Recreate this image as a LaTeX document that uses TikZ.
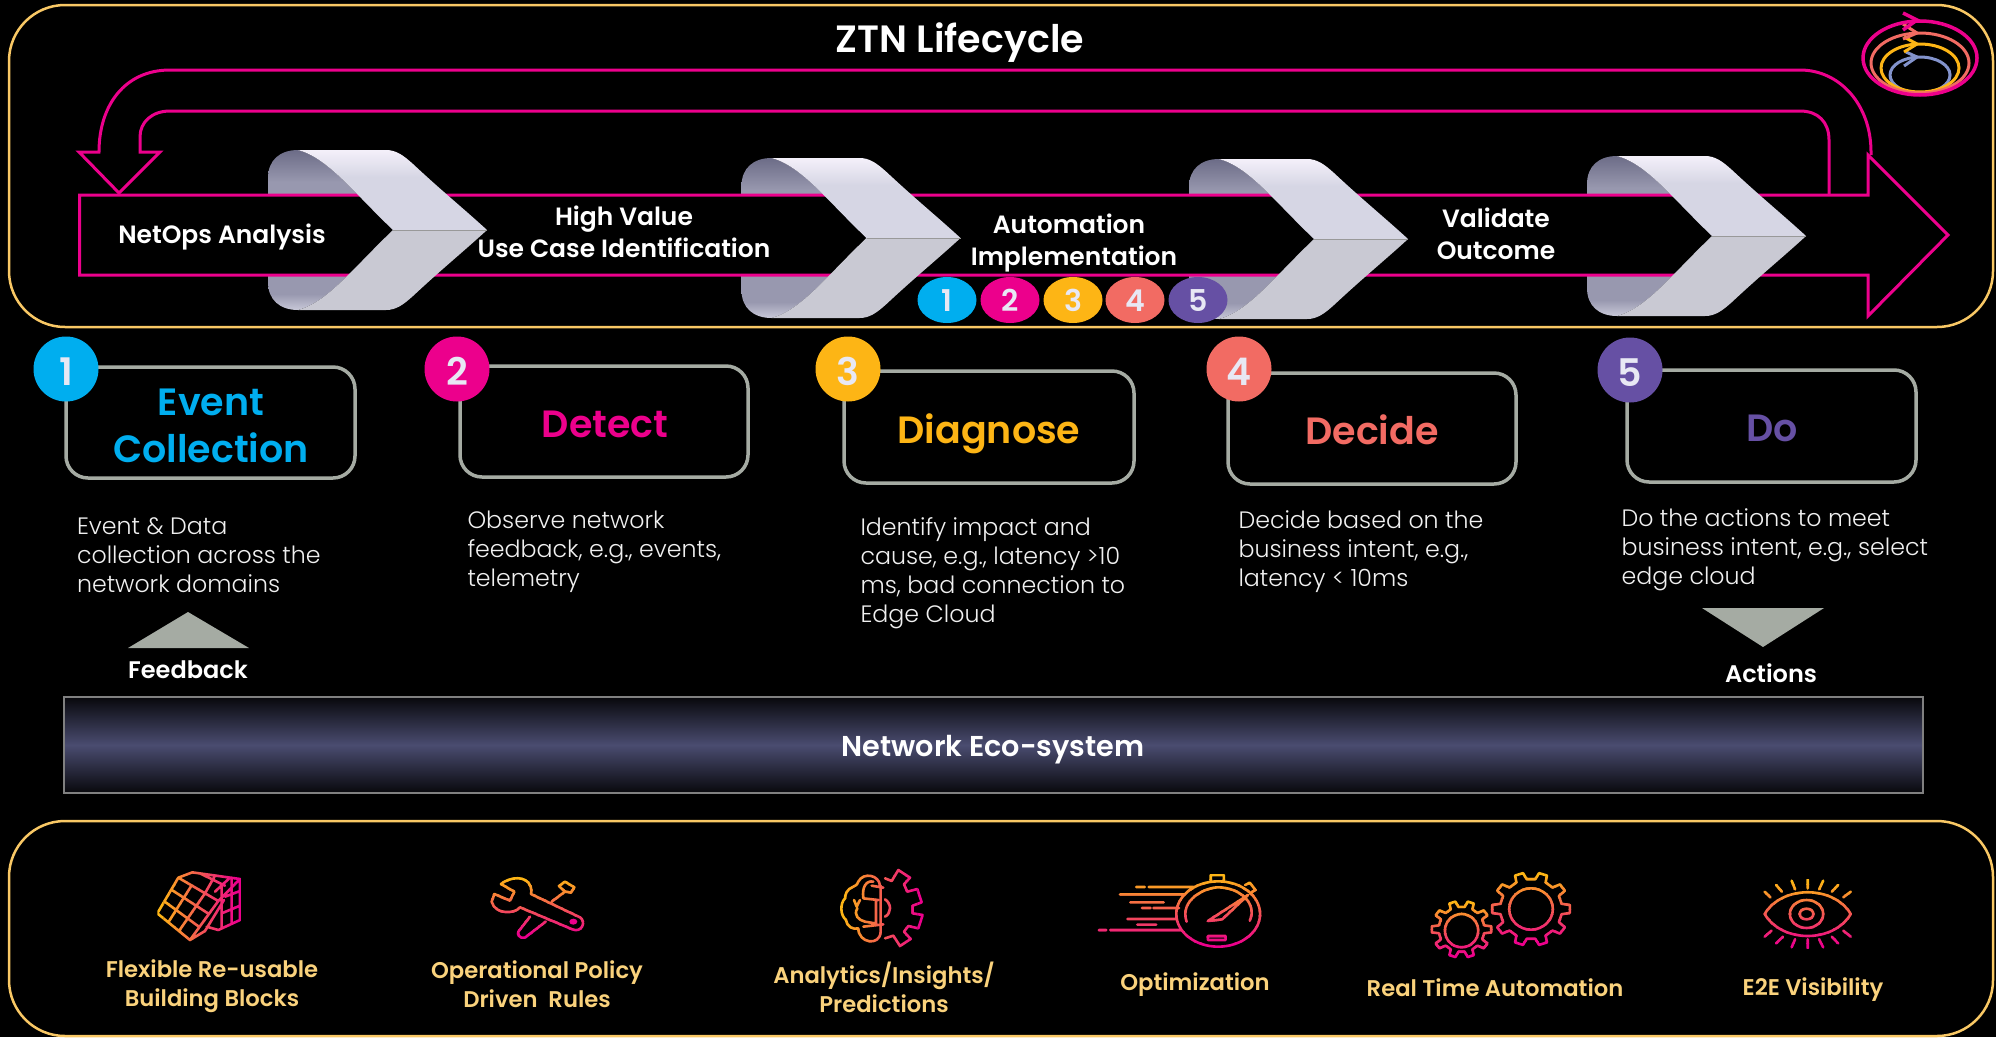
\documentclass[tikz,border=0pt]{standalone}
\usepackage{fontspec}
\usetikzlibrary{shapes.geometric}
\newfontfamily\headfont{Poppins SemiBold}
\newfontfamily\lightfont{Poppins Light}
\setmainfont{Poppins}

\definecolor{ztnframe}{HTML}{F9C865}
\definecolor{ztnpink}{HTML}{EC008C}
\definecolor{ztncyan}{HTML}{00AEEF}
\definecolor{ztnamber}{HTML}{FDB515}
\definecolor{ztncoral}{HTML}{F26B63}
\definecolor{ztnpurple}{HTML}{6650A4}
\definecolor{ztnblue}{HTML}{8393CC}
\definecolor{ztngrey}{HTML}{A5ABA3}
\definecolor{ztnlabel}{HTML}{FAD27C}
\definecolor{ztndigit}{HTML}{E8E8F4}
\definecolor{chevlow}{HTML}{C8C8D8}
\definecolor{chevmid}{HTML}{9898AF}
\definecolor{chevdark}{HTML}{6C6C87}
\definecolor{chevface}{HTML}{D6D6E4}
\definecolor{chevpale}{HTML}{F4F0FA}
\definecolor{chevlower}{HTML}{C9C9D3}
\definecolor{ecoedge}{HTML}{08080C}
\definecolor{ecomid}{HTML}{4A4C70}

\pgfdeclareverticalshading{chevbackfill}{100bp}{color(0bp)=(chevlow); color(25bp)=(chevlow); color(30bp)=(chevmid); color(65bp)=(chevmid); color(75bp)=(chevdark); color(100bp)=(chevdark)}
\pgfdeclareverticalshading{chevtopfill}{100bp}{color(0bp)=(chevface); color(58bp)=(chevface); color(75bp)=(chevpale); color(100bp)=(chevpale)}
\pgfdeclareverticalshading{ecofill}{100bp}{color(0bp)=(ecoedge); color(25bp)=(ecoedge); color(50bp)=(ecomid); color(75bp)=(ecoedge); color(100bp)=(ecoedge)}

\tikzset{
  frame/.style={draw=ztnframe, line width=2.5pt, rounded corners=56pt},
  pinkline/.style={draw=ztnpink, line width=3pt, miter limit=20},
  bandtext/.style={text=white, align=center, font=\headfont\fontsize{25}{32}\selectfont},
  stagebox/.style={draw=ztngrey, line width=3.5pt, rounded corners=22pt},
  stagetitle/.style={align=center, font=\headfont\fontsize{38}{47}\selectfont},
  stagetext/.style={text=white!94!black, align=left, anchor=west, font=\lightfont\fontsize{23.7}{29}\selectfont},
  bignum/.style={circle, minimum size=65pt, inner sep=0pt, text height=32pt, text depth=0pt, text=ztndigit, font=\headfont\fontsize{38}{38}\selectfont},
  smallnum/.style={ellipse, minimum width=59pt, minimum height=46pt, inner sep=0pt, text height=23pt, text depth=0pt, text=ztndigit, font=\headfont\fontsize{30}{30}\selectfont},
  tagtext/.style={text=white, font=\headfont\fontsize{24}{28}\selectfont},
  assettext/.style={text=ztnlabel, align=center, font=\headfont\fontsize{22.7}{29}\selectfont},
  iconline/.style={line width=2.6pt, line join=round, line cap=round},
}

% chevrons, given by left edge and centre height
\newcommand{\chevronback}[2]{
  \begin{scope}[shift={(#1,#2)}]
    \shade[shading=chevbackfill] (0,-52) .. controls (0,-70) and (12,-80) .. (30,-80)
      .. controls (60,-72) and (85,-38) .. (125,0) .. controls (85,38) and (60,72) .. (30,80)
      .. controls (12,80) and (0,70) .. (0,52) -- cycle;
  \end{scope}
}
\newcommand{\chevronfront}[2]{
  \begin{scope}[shift={(#1,#2)}]
    \shade[shading=chevtopfill] (30,-80) -- (118,-80) .. controls (128,-80) and (135,-75) .. (145,-66)
      .. controls (175,-38) and (195,-22) .. (219,0) -- (125,0) .. controls (85,-38) and (60,-72) .. (30,-80) -- cycle;
    \fill[chevlower] (30,80) -- (118,80) .. controls (128,80) and (135,75) .. (145,66)
      .. controls (175,38) and (195,22) .. (219,0) -- (125,0) .. controls (85,38) and (60,72) .. (30,80) -- cycle;
    \draw[black!40, line width=1pt] (125,0) -- (219,0);
  \end{scope}
}
% amber to pink stroke, made of thin clipped strips
\newcommand{\gradstroke}[3]{
  \foreach \k in {0,...,13}{
    \pgfmathsetmacro{\pct}{\k/13*100}
    \begin{scope}
      \clip (-200,{#1+(#2-#1)*\k/14}) rectangle (3000,{#1+(#2-#1)*(\k+1)/14+1});
      \draw[iconline, color=ztnpink!\pct!ztnamber] #3;
    \end{scope}
  }
}
\newcommand{\gradstrokex}[3]{
  \foreach \k in {0,...,13}{
    \pgfmathsetmacro{\pct}{\k/13*100}
    \begin{scope}
      \clip ({#1+(#2-#1)*\k/14},-200) rectangle ({#1+(#2-#1)*(\k+1)/14+1},3000);
      \draw[iconline, color=ztnpink!\pct!ztnamber] #3;
    \end{scope}
  }
}
% point of an ellipse
\newcommand{\gp}[5]{({#1+#3*cos(#5)},{#2+#4*sin(#5)})}
% gear outline: centre, outer radii, inner radii, teeth
\newcommand{\gearpath}[7]{
  \gp{#1}{#2}{#5}{#6}{-0.28*360/#7}
  \foreach \t in {1,...,#7}{
    -- \gp{#1}{#2}{#3}{#4}{(\t-1-0.17)*360/#7}
    -- \gp{#1}{#2}{#3}{#4}{(\t-1+0.17)*360/#7}
    -- \gp{#1}{#2}{#5}{#6}{(\t-1+0.28)*360/#7}
    -- \gp{#1}{#2}{#5}{#6}{(\t-1+0.72)*360/#7}
  } -- cycle
}

\begin{document}
\begin{tikzpicture}[x=1pt, y=-1pt]
\fill[black] (0,0) rectangle (1996,1037);
\useasboundingbox (0,0) rectangle (1996,1037);

\draw[frame] (9,5) rectangle (1993,327);
\draw[frame] (9,821) rectangle (1993,1036);

\node (title) at (960,43) [text=white, font=\headfont\fontsize{38}{46}\selectfont] {ZTN Lifecycle};

% spiral mark
\draw[ztnblue, line width=3pt] (1920,75) ellipse [x radius=30, y radius=18];
\draw[ztnblue, line width=3pt] (1904,66) -- (1917,57) -- (1906,52);
\draw[ztnamber, line width=3pt] (1920,68) ellipse [x radius=39, y radius=24];
\draw[ztnamber, line width=3pt] (1904,52) -- (1917,44) -- (1904,37);
\draw[ztncoral, line width=3pt] (1920,63) ellipse [x radius=49, y radius=30];
\draw[ztncoral, line width=3pt] (1903,39) -- (1917,33) -- (1903,24);
\draw[ztnpink, line width=3.5pt] (1920,58) ellipse [x radius=57, y radius=37];
\draw[ztnpink, line width=3.5pt] (1903,30) -- (1917,20) -- (1903,13);

% return arrow
\draw[pinkline] (1871,155) -- (1871,152) .. controls (1871,105) and (1840,70) .. (1800,70) -- (170,70)
  .. controls (125,70) and (99,105) .. (99,152) -- (79,152) -- (119,193) -- (160,152) -- (140,152) -- (140,137)
  .. controls (140,122) and (152,111) .. (170,111) -- (1800,111) .. controls (1818,111) and (1829,122) .. (1829,140) -- (1829,195);

\chevronback{268}{230}
\chevronback{741.5}{238}
\chevronback{1189}{239}
\chevronback{1587}{236}

% main band
\draw[pinkline, fill=black] (79.5,195) -- (1868,195) -- (1868,155) -- (1948,235) -- (1868,316) -- (1868,275) -- (79.5,275) -- cycle;

\chevronfront{268}{230}
\chevronfront{741.5}{238}
\chevronfront{1189}{239}
\chevronfront{1587}{236}

\node (netops) at (222,237) [bandtext] {NetOps Analysis};
\node (usecase) at (624,232) [bandtext] {High Value\\Use Case Identification};
\node (autoimpl) at (1074,243) [bandtext] {Automation\hspace*{10pt}\\Implementation};
\node (validate) at (1496,234) [bandtext] {Validate\\Outcome};

\node (mini1) at (947,300) [smallnum, fill=ztncyan] {1};
\node (mini2) at (1010,300) [smallnum, fill=ztnpink] {2};
\node (mini3) at (1073,300) [smallnum, fill=ztnamber] {3};
\node (mini4) at (1135,300) [smallnum, fill=ztncoral] {4};
\node (mini5) at (1198,300) [smallnum, fill=ztnpurple] {5};

% stages
\draw[stagebox] (66,367) rectangle (355,478);
\draw[stagebox] (460,366) rectangle (748,477);
\draw[stagebox] (844,371) rectangle (1134,483);
\draw[stagebox] (1228,373) rectangle (1516,484);
\draw[stagebox] (1627,370) rectangle (1916,482);

\node (num1) at (66,369) [bignum, fill=ztncyan] {1};
\node (num2) at (457,369) [bignum, fill=ztnpink] {2};
\node (num3) at (848,369) [bignum, fill=ztnamber] {3};
\node (num4) at (1239,369) [bignum, fill=ztncoral] {4};
\node (num5) at (1630,370) [bignum, fill=ztnpurple] {5};

\node (event) at (211,426) [stagetitle, text=ztncyan] {Event\\Collection};
\node (detect) at (605,424) [stagetitle, text=ztnpink] {Detect};
\node (diagnose) at (989,434) [stagetitle, text=ztnamber] {Diagnose};
\node (decide) at (1372,430) [stagetitle, text=ztncoral] {Decide};
\node (do) at (1772,428) [stagetitle, text=ztnpurple] {Do};

\node (eventtext) at (73.5,555) [stagetext] {Event \& Data\\collection across the\\network domains};
\node (detecttext) at (464,552) [stagetext] {Observe network\\feedback, e.g., events,\\telemetry};
\node (diagnosetext) at (857,573) [stagetext] {Identify impact and\\cause, e.g., latency >10\\ms, bad connection to\\Edge Cloud};
\node (decidetext) at (1235,552) [stagetext] {Decide based on the\\business intent, e.g.,\\latency < 10ms};
\node (dotext) at (1618,550) [stagetext] {Do the actions to meet\\business intent, e.g., select\\edge cloud};

\fill[ztngrey] (128,648) -- (188,612) -- (249,648) -- cycle;
\fill[ztngrey] (1702,608) -- (1824,608) -- (1763,647) -- cycle;
\node (feedback) at (188,670) [tagtext] {Feedback};
\node (actions) at (1771,673) [tagtext] {Actions};

\shade[shading=ecofill] (64,697) rectangle (1923,793);
\draw[black!50!white, line width=2.5pt] (64,697) rectangle (1923,793);
\node (eco) at (993,750) [text=white, font=\headfont\fontsize{28.7}{36}\selectfont] {Network Eco-system};

% bottom row
\node (flexible) at (212,986) [assettext] {Flexible Re-usable\\Building Blocks};
\node (policy) at (537,984) [assettext] {Operational Policy\\Driven~~Rules};
\node (analytics) at (884,987) [assettext] {Analytics/Insights/\\Predictions};
\node (optimize) at (1195,985) [assettext] {Optimization};
\node (realtime) at (1495,988) [assettext] {Real Time Automation};
\node (visibility) at (1813,990) [assettext] {E2E Visibility};

% icons traced from crops at three units a pixel
\begin{scope}[shift={(150,865)}, x=0.3333pt, y=-0.3333pt]
  \gradstrokex{22}{272}{
    (85,38) -- (22,145) -- (120,225) -- (205,108) -- cycle
    (64,74) -- (177,147) (43,109) -- (148,186)
    (125,61) -- (55,172) (165,85) -- (87,198)
    (85,38) -- (127,22) -- (270,42) -- (205,108)
    (150,25) -- (225,62) (195,32) -- (165,85) (240,38) -- (195,80)
    (270,42) -- (270,165) -- (205,195) -- (170,185)
    (245,38) -- (245,175) (215,62) -- (215,190) (225,95) -- (270,78) (215,145) -- (270,122)
    (120,225) -- (165,198) -- (222,105)
  }
\end{scope}
\begin{scope}[shift={(485,870)}, x=0.3333pt, y=-0.3333pt]
  \gradstroke{20}{205}{
    (48,42) .. controls (75,20) and (125,15) .. (137,50) .. controls (140,60) and (140,65) .. (138,72)
    -- (285,142) .. controls (305,155) and (290,190) .. (262,178) -- (105,112)
    .. controls (90,132) and (30,135) .. (20,95) -- (28,72) -- (75,92) -- (88,65) -- cycle
    (200,95) -- (240,65) -- (222,48) -- (240,35) -- (268,52) -- (258,68) -- (240,65)
    (135,140) -- (100,185) .. controls (95,205) and (120,210) .. (130,195) -- (182,155)
  }
  \fill[ztnpink] (265,155) ellipse [x radius=12, y radius=9];
\end{scope}
\begin{scope}[shift={(830,865)}, x=0.3333pt, y=-0.3333pt]
  \gradstrokex{30}{280}{
    (150,62) .. controls (148,30) and (100,20) .. (85,50) .. controls (80,60) and (78,62) .. (70,65)
    .. controls (50,72) and (45,90) .. (45,100) .. controls (30,115) and (30,150) .. (48,165)
    .. controls (50,185) and (70,195) .. (85,190) .. controls (85,235) and (150,245) .. (152,200) -- (152,62)
    (125,62) -- (160,68) (130,50) .. controls (110,45) and (95,65) .. (100,100) -- (145,105)
    (72,105) -- (80,125) -- (90,105) (138,105) -- (138,175) (100,185) -- (160,178)
    (82,130) .. controls (70,150) and (85,165) .. (105,170) -- (135,175)
    (165,103) .. controls (185,115) and (185,145) .. (165,155)
    (165,40) -- (185,48) -- (205,15) -- (240,38) -- (222,58) -- (232,80) -- (262,72) -- (275,112) -- (248,122)
    -- (248,145) -- (278,150) -- (265,190) -- (235,183) -- (222,200) -- (242,222) -- (210,243) -- (190,212) -- (165,220)
  }
\end{scope}
\begin{scope}[shift={(1050,840)}, x=0.574pt, y=-0.3333pt]
  % stopwatch
  \gradstroke{102}{322}{
    (293,222) ellipse [x radius=73, y radius=98]
    (238,245) .. controls (225,180) and (270,142) .. (293,142) .. controls (330,142) and (362,190) .. (348,242)
    (275,243) -- (345,165) -- (300,238) -- cycle
    (275,288) -- (306,288) -- (306,300) -- (275,300) -- cycle
    (280,122) -- (280,105) -- (303,105) -- (303,122)
    (340,135) -- (348,128) -- (358,150) -- (350,158)
    (150,141) -- (165,141) (172,141) -- (250,141) (122,163) -- (235,163) (140,187) -- (198,187)
    (160,204) -- (175,204) (180,204) -- (225,204) (135,237) -- (220,237) (152,254) -- (185,254)
    (85,270) -- (98,270) (105,270) -- (230,270)
  }
  % gears
  \gradstroke{95}{320}{
    \gearpath{838}{207}{68}{110}{54}{90}{10}
    (838,207) ellipse [x radius=38, y radius=62]
  }
  \gradstroke{180}{355}{
    \gearpath{717}{268}{52}{85}{40}{68}{10}
    (717,272) ellipse [x radius=29, y radius=50]
  }
  % eye
  \gradstroke{118}{325}{
    (1245,222) .. controls (1275,135) and (1365,135) .. (1395,222) .. controls (1365,310) and (1275,310) .. (1245,222) -- cycle
    (1318,222) ellipse [x radius=29, y radius=42]
    (1318,222) ellipse [x radius=12, y radius=16]
    (1245,155) -- (1255,172) (1265,135) -- (1275,155) (1292,122) -- (1298,148) (1320,118) -- (1320,145)
    (1347,122) -- (1340,148) (1373,135) -- (1362,155) (1395,155) -- (1382,172)
    (1245,290) -- (1257,272) (1265,310) -- (1277,290) (1292,322) -- (1298,298) (1320,325) -- (1320,298)
    (1347,322) -- (1340,298) (1373,310) -- (1362,290) (1395,290) -- (1382,272)
  }
\end{scope}
\end{tikzpicture}
\end{document}
